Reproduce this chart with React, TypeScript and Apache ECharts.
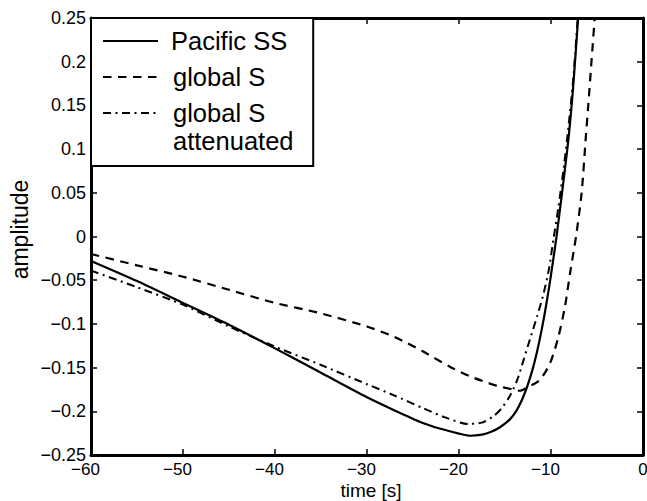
import { useEffect, useRef } from 'react';
import * as echarts from 'echarts';

// ---- data ----
const pacificTime = [-60, -55, -50, -45, -40, -35, -30, -27, -24, -22, -20, -18.8, -17.5, -16.5, -15.5, -14.5, -13.8, -13.2, -12.6, -12.0, -11.5, -11.0, -10.5, -10.0, -9.4, -8.8, -8.1, -7.6, -7.05];
const pacificAmp = [-0.028, -0.051, -0.076, -0.101, -0.128, -0.156, -0.184, -0.199, -0.213, -0.220, -0.2255, -0.228, -0.2267, -0.2235, -0.218, -0.2095, -0.200, -0.188, -0.172, -0.152, -0.131, -0.106, -0.077, -0.044, 0.0, 0.05, 0.112, 0.17, 0.25];

const globalTime = [-60, -55, -50, -45, -40, -35, -30, -27, -24, -21, -18.8, -17, -15.5, -14.1, -13.4, -12.45, -11.2, -10.1, -9.2, -8.48, -7.93, -7.28, -6.67, -6.2, -5.95, -5.6, -5.25];
const globalAmp = [-0.020, -0.033, -0.046, -0.061, -0.076, -0.088, -0.103, -0.115, -0.131, -0.149, -0.160, -0.167, -0.172, -0.175, -0.1765, -0.172, -0.164, -0.145, -0.115, -0.080, -0.042, 0.0, 0.05, 0.116, 0.15, 0.2, 0.25];

const attenTime = [-60, -55, -50, -45, -40, -35, -30, -27, -24, -21.5, -19, -17.5, -16.3, -15.4, -14.5, -13.7, -13.0, -12.3, -11.5, -10.8, -10.2, -9.75, -9.2, -8.6, -8.2, -7.6, -7.1];
const attenAmp = [-0.039, -0.058, -0.078, -0.103, -0.126, -0.147, -0.169, -0.182, -0.196, -0.207, -0.2145, -0.213, -0.206, -0.197, -0.183, -0.165, -0.142, -0.118, -0.091, -0.065, -0.036, -0.004, 0.033, 0.080, 0.116, 0.178, 0.25];

const seriesNames = ['Pacific SS', 'global S', 'global S attenuated'];
const xRange = [-60, 0];
const xStep = 10;
const yRange = [-0.25, 0.25];
const yStep = 0.05;

const FONT = '"Liberation Sans", Arial, Helvetica, sans-serif';

function pairs(t: number[], a: number[]) {
  return t.map((x, i) => [x, a[i]]);
}

export default function App() {
  const ref = useRef<HTMLDivElement>(null);
  useEffect(() => {
    const chart = echarts.init(ref.current!, null, { renderer: 'svg' });
    const axisLine = { show: true, onZero: false, lineStyle: { color: '#000', width: 3 } };
    const axisTick = { show: true, inside: true, length: 6, lineStyle: { color: '#000', width: 1.5 } };
    const yFmt = (v: number) => {
      const r = Math.round(v * 100) / 100;
      if (r === 0) return '0';
      return r < 0 ? '\u2212' + String(-r) : String(r);
    };
    const xFmt = (v: number) => {
      const r = Math.round(v);
      if (r === 0) return '0';
      return '{n|\u2212' + String(-r) + '}';
    };
    const legendCommon = {
      orient: 'vertical',
      itemWidth: 55,
      itemHeight: 14,
      selectedMode: false,
      itemStyle: { opacity: 0 },
      lineStyle: { width: 2 },
      textStyle: { fontFamily: FONT, fontSize: 25.5, lineHeight: 28, color: '#000' },
    };
    chart.setOption({
      animation: false,
      backgroundColor: '#fff',
      grid: { left: 91, right: 4, top: 18, bottom: 46, containLabel: false, outerBoundsMode: 'none' },
      xAxis: [
        {
          type: 'value', position: 'bottom', min: xRange[0], max: xRange[1], interval: xStep,
          axisLine, axisTick, splitLine: { show: false },
          axisLabel: {
            formatter: xFmt, margin: 7, color: '#000', fontFamily: FONT, fontSize: 17, lineHeight: 14,
            rich: { n: { padding: [0, 11, 0, 0], fontFamily: FONT, fontSize: 17, lineHeight: 14, color: '#000' } },
          },
          name: 'time [s]', nameLocation: 'middle', nameGap: 26, nameMoveOverlap: false,
          nameTextStyle: { fontFamily: FONT, fontSize: 19, lineHeight: 18, color: '#000', padding: [0, 0, 0, 8] },
        },
        {
          type: 'value', position: 'top', min: xRange[0], max: xRange[1], interval: xStep,
          axisLine, axisTick, splitLine: { show: false }, axisLabel: { show: false },
        },
      ],
      yAxis: [
        {
          type: 'value', position: 'left', min: yRange[0], max: yRange[1], interval: yStep,
          axisLine, axisTick, splitLine: { show: false },
          axisLabel: { formatter: yFmt, margin: 5, color: '#000', fontFamily: FONT, fontSize: 18, lineHeight: 14 },
          name: 'amplitude', nameLocation: 'middle', nameGap: 60, nameMoveOverlap: false,
          nameTextStyle: { fontFamily: FONT, fontSize: 23, color: '#000', padding: [0, 0, 0, 14] },
        },
        {
          type: 'value', position: 'right', min: yRange[0], max: yRange[1], interval: yStep,
          axisLine, axisTick, splitLine: { show: false }, axisLabel: { show: false },
        },
      ],
      legend: [
        {
          ...legendCommon,
          id: 'legA',
          data: [
            { name: seriesNames[0], textStyle: { padding: [0, 0, 0, 8] } },
            { name: seriesNames[1], textStyle: { padding: [0, 0, 0, 10] } },
          ],
          left: 91, top: 18,
          padding: [9, 26, 75, 11],
          itemGap: 8,
          backgroundColor: '#fff',
          borderColor: '#000', borderWidth: 2, borderRadius: 0,
          z: 5,
        },
        {
          ...legendCommon,
          id: 'legB',
          data: [{ name: seriesNames[2], textStyle: { padding: [0, 0, 0, 10] } }],
          formatter: (n: string) => (n === seriesNames[2] ? '\nglobal S\nattenuated' : n),
          left: 102, top: 71,
          padding: 0,
          backgroundColor: 'transparent', borderWidth: 0,
          z: 6,
        },
      ],
      series: [
        {
          name: seriesNames[0], type: 'line', data: pairs(pacificTime, pacificAmp),
          symbol: 'none', smooth: 0.25, xAxisIndex: 0, yAxisIndex: 0,
          lineStyle: { color: '#000', width: 2.2, type: 'solid' }, itemStyle: { color: '#000' },
        },
        {
          name: seriesNames[1], type: 'line', data: pairs(globalTime, globalAmp),
          symbol: 'none', smooth: 0.25, xAxisIndex: 0, yAxisIndex: 0,
          lineStyle: { color: '#000', width: 2.2, type: [8.5, 6.5] }, itemStyle: { color: '#000' },
        },
        {
          name: seriesNames[2], type: 'line', data: pairs(attenTime, attenAmp),
          symbol: 'none', smooth: 0.25, xAxisIndex: 0, yAxisIndex: 0,
          lineStyle: { color: '#000', width: 2, type: [8, 4.5, 2, 4.5] }, itemStyle: { color: '#000' },
        },
      ],
    });
    return () => chart.dispose();
  }, []);
  return (
    <div
      ref={ref}
      style={{ position: 'fixed', left: 0, top: 0, width: 647, height: 501, background: '#fff' }}
    />
  );
}
